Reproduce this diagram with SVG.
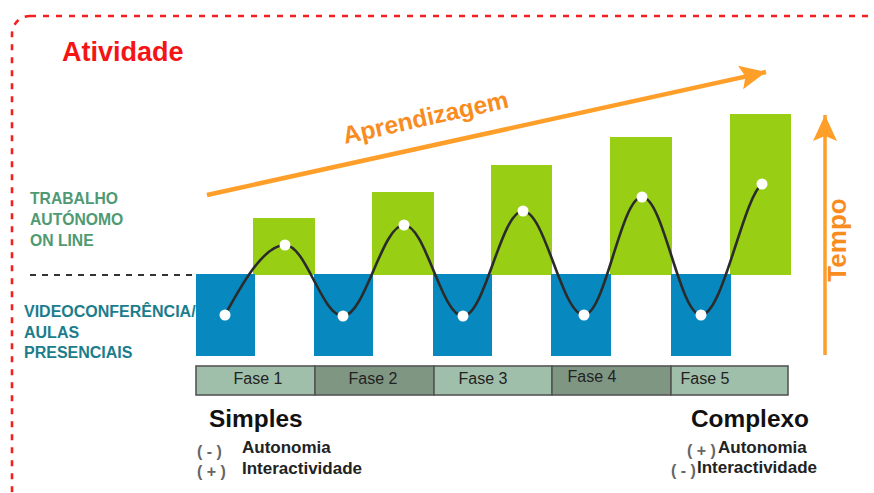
<svg xmlns="http://www.w3.org/2000/svg" width="874" height="493" viewBox="0 0 874 493">
  <style>
    .frame { fill: none; stroke: #f41f1f; stroke-width: 2.6; stroke-dasharray: 6 7; }
    .sans { font-family: "Liberation Sans", Arial, sans-serif; }
    .bold { font-weight: bold; }
    .online { fill: #4f9a72; font-size: 15.7px; }
    .presencial { fill: #1b7d8c; font-size: 16px; }
    .green { fill: #98ce14; }
    .blue { fill: #0789bf; }
    .phase-l { fill: #a0bfaa; }
    .phase-d { fill: #7f9682; }
    .phase-label { fill: #222; font-size: 16px; text-anchor: middle; }
    .wave { fill: none; stroke: #2b2b2b; stroke-width: 2.6; stroke-linecap: round; }
    .dot { fill: #fff; }
    .orange-line { stroke: #ff9f2a; fill: none; }
    .orange-text { fill: #f98c1e; }
    .heading { fill: #111; font-size: 24.4px; }
    .level { fill: #222; font-size: 17px; }
    .sign { fill: #666; font-size: 16px; }
  </style>
  <defs>
    <marker id="arrowHead" markerUnits="userSpaceOnUse" markerWidth="30" markerHeight="30" refX="26" refY="12" orient="auto">
      <path d="M0,0 L26,12 L0,24 L5,12 Z" fill="#ff9f2a"/>
    </marker>
  </defs>

  <rect width="874" height="493" fill="#fff"/>

  <!-- dashed outer frame -->
  <rect class="frame" x="12" y="16" width="872" height="492" rx="18" ry="18"/>

  <text id="title" class="sans bold" x="62" y="61" font-size="27" fill="#f41414">Atividade</text>

  <!-- row labels -->
  <g id="label-online" class="sans bold online">
    <text x="30" y="204">TRABALHO</text>
    <text x="30" y="225">AUTÓNOMO</text>
    <text x="30" y="246">ON LINE</text>
  </g>
  <g id="label-presencial" class="sans bold presencial">
    <text x="24" y="317">VIDEOCONFERÊNCIA/</text>
    <text x="24" y="337.5">AULAS</text>
    <text x="24" y="358">PRESENCIAIS</text>
  </g>

  <!-- divider between the two rows -->
  <line x1="30" y1="275" x2="196" y2="275" stroke="#333" stroke-width="2" stroke-dasharray="6 6"/>

  <!-- on-line work bars -->
  <g id="online-bars">
    <rect class="green" x="253" y="218" width="62" height="57"/>
    <rect class="green" x="372" y="192" width="62" height="83"/>
    <rect class="green" x="491" y="165" width="61" height="110"/>
    <rect class="green" x="610" y="137" width="62" height="138"/>
    <rect class="green" x="730" y="114" width="61" height="161"/>
  </g>

  <!-- live session bars -->
  <g id="presencial-bars">
    <rect class="blue" x="196" y="274" width="59" height="82"/>
    <rect class="blue" x="314" y="274" width="59" height="82"/>
    <rect class="blue" x="433" y="274" width="59" height="82"/>
    <rect class="blue" x="551" y="274" width="60" height="82"/>
    <rect class="blue" x="671" y="274" width="60" height="82"/>
  </g>

  <!-- alternating wave linking the sessions -->
  <g id="connectors">
    <path class="wave" d="M225,315 C240,288 263,245 285,245 C306,245 322,316 343,316 C365,316 382,225 404,225 C425.5,225 441.5,316 463,316 C485,316 501,211 523,211 C545,211 562,315 584,315 C605,315 621,197 642,197 C663.5,197 679.5,315 701,315 C723,315 743,198 762,184"/>
    <line class="orange-line" x1="207" y1="195" x2="766" y2="72" stroke-width="4.5" marker-end="url(#arrowHead)"/>
    <line class="orange-line" x1="825" y1="355" x2="825" y2="115" stroke-width="3.5" marker-end="url(#arrowHead)"/>
  </g>

  <g id="wave-dots">
    <circle class="dot" cx="225" cy="315" r="5.5"/>
    <circle class="dot" cx="285" cy="245" r="5.5"/>
    <circle class="dot" cx="343" cy="316" r="5.5"/>
    <circle class="dot" cx="404" cy="225" r="5.5"/>
    <circle class="dot" cx="463" cy="316" r="5.5"/>
    <circle class="dot" cx="523" cy="211" r="5.5"/>
    <circle class="dot" cx="584" cy="315" r="5.5"/>
    <circle class="dot" cx="642" cy="197" r="5.5"/>
    <circle class="dot" cx="701" cy="315" r="5.5"/>
    <circle class="dot" cx="762" cy="184" r="5.5"/>
  </g>

  <text id="aprendizagem" class="sans bold orange-text" font-size="24.5" transform="translate(345,144) rotate(-12.6)">Aprendizagem</text>
  <text id="tempo" class="sans bold orange-text" font-size="26" text-anchor="middle" transform="translate(846,240) rotate(-90)">Tempo</text>

  <!-- phase strip -->
  <g id="phases" stroke="#555" stroke-width="1.6">
    <rect class="phase-l" x="196" y="366" width="119" height="29"/>
    <rect class="phase-d" x="315" y="366" width="119" height="29"/>
    <rect class="phase-l" x="434" y="366" width="118" height="29"/>
    <rect class="phase-d" x="552" y="366" width="119" height="29"/>
    <rect class="phase-l" x="671" y="366" width="117" height="29"/>
  </g>
  <g id="phase-labels" class="sans phase-label">
    <text x="258" y="384">Fase 1</text>
    <text x="373" y="384">Fase 2</text>
    <text x="483" y="384">Fase 3</text>
    <text x="592" y="382">Fase 4</text>
    <text x="705" y="384">Fase 5</text>
  </g>

  <!-- start of the path -->
  <g id="simples" class="sans bold">
    <text class="heading" x="209" y="427">Simples</text>
    <text class="sign" x="197" y="457">( - )</text>
    <text class="level" x="242" y="453">Autonomia</text>
    <text class="sign" x="197" y="477">( + )</text>
    <text class="level" x="242" y="474">Interactividade</text>
  </g>

  <!-- end of the path -->
  <g id="complexo" class="sans bold">
    <text class="heading" x="691" y="427">Complexo</text>
    <text class="sign" x="687" y="456">( + )</text>
    <text class="level" x="718" y="453">Autonomia</text>
    <text class="sign" x="671" y="476">( - )</text>
    <text class="level" x="697" y="473">Interactividade</text>
  </g>
</svg>
